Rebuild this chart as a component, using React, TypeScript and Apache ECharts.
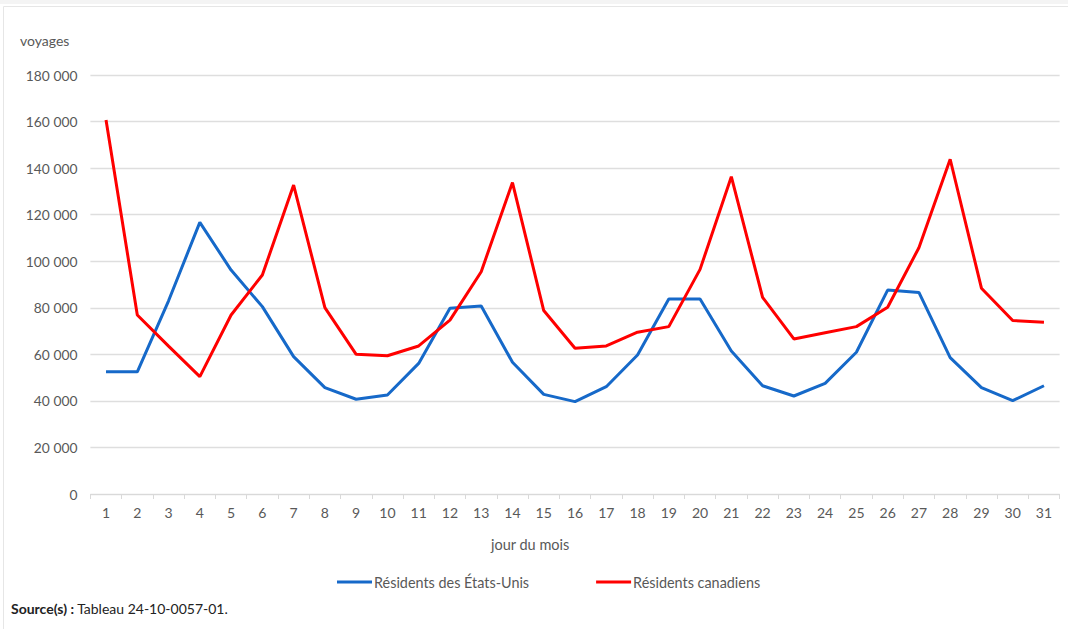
import React, { useEffect, useRef } from "react";
import * as echarts from "echarts";

const days: string[] = Array.from({ length: 31 }, (_, i) => String(i + 1));

const usResidents: number[] = [
  52500, 52500, 83000, 116700, 96200, 80500, 59000, 45700, 40700, 42500,
  56100, 79800, 80800, 56600, 42800, 39700, 46100, 59700, 83800, 83800,
  61400, 46500, 42100, 47500, 60900, 87600, 86600, 58600, 45700, 40100, 46500,
];

const canadianResidents: number[] = [
  160700, 76900, 63500, 50400, 76900, 94100, 132700, 80100, 60000, 59400,
  63600, 74700, 95500, 133800, 78800, 62600, 63600, 69500, 71900, 96500,
  136300, 84500, 66600, 69300, 71900, 80200, 105800, 143800, 88400, 74500, 73800,
];

const yTicks = { min: 0, max: 180000, interval: 20000 };

const FONT = "Lato, 'Noto Sans', sans-serif";
const GRAY = "#595959";

export default function App() {
  const ref = useRef<HTMLDivElement>(null);

  useEffect(() => {
    if (!ref.current) return;
    const chart = echarts.init(ref.current, undefined, { renderer: "svg" });
    chart.setOption({
      animation: false,
      backgroundColor: "#ffffff",
      textStyle: { fontFamily: FONT },
      grid: { left: 90.4, right: 8.4, top: 75, bottom: 135, containLabel: false },
      legend: {
        left: 332,
        top: 570,
        icon: "rect",
        itemWidth: 35,
        itemHeight: 3,
        itemGap: 67,
        textStyle: { color: GRAY, fontSize: 14.4, fontFamily: FONT, padding: [0, 0, 0, -3] },
        data: ["Résidents des États-Unis", "Résidents canadiens"],
      },
      xAxis: {
        type: "category",
        data: days,
        boundaryGap: true,
        axisLine: { lineStyle: { color: "#d9d9d9", width: 1 } },
        axisTick: { show: true, length: 5, lineStyle: { color: "#d9d9d9" } },
        axisLabel: { color: GRAY, fontSize: 14, margin: 11, interval: 0, fontFamily: FONT },
      },
      yAxis: {
        type: "value",
        min: yTicks.min,
        max: yTicks.max,
        interval: yTicks.interval,
        axisLine: { show: false },
        axisTick: { show: false },
        splitLine: { lineStyle: { color: "#dedede", width: 1.3 } },
        axisLabel: {
          color: GRAY,
          fontSize: 13.8,
          margin: 13,
          fontFamily: FONT,
          formatter: (v: number) => String(v).replace(/\B(?=(\d{3})+(?!\d))/g, " "),
        },
      },
      series: [
        {
          name: "Résidents des États-Unis",
          type: "line",
          data: usResidents,
          symbol: "none",
          lineStyle: { color: "#1669C9", width: 3 },
          itemStyle: { color: "#1669C9" },
        },
        {
          name: "Résidents canadiens",
          type: "line",
          data: canadianResidents,
          symbol: "none",
          lineStyle: { color: "#FF0000", width: 3 },
          itemStyle: { color: "#FF0000" },
        },
      ],
      graphic: [
        {
          type: "rect",
          left: 0,
          top: 0,
          shape: { width: 1068, height: 4 },
          style: { fill: "#f4f4f4" },
          silent: true,
        },
        {
          type: "rect",
          left: 1,
          top: 4,
          shape: { width: 1066, height: 640 },
          style: { fill: "none", stroke: "#e6e6e6", lineWidth: 1 },
          silent: true,
        },
        {
          type: "text",
          left: 20,
          top: 33,
          style: { text: "voyages", fill: GRAY, fontSize: 14, fontFamily: FONT },
        },
        {
          type: "text",
          left: 491,
          top: 537,
          style: { text: "jour du mois", fill: GRAY, fontSize: 14.5, fontFamily: FONT },
        },
        {
          type: "text",
          left: 11,
          top: 601,
          style: {
            text: "{b|Source(s) :} Tableau 24-10-0057-01.",
            fill: "#222222",
            fontSize: 14,
            fontFamily: FONT,
            rich: { b: { fontWeight: "bold", fill: "#222222", fontSize: 14, fontFamily: FONT } },
          },
        },
      ],
    });
    return () => chart.dispose();
  }, []);

  return (
    <div
      ref={ref}
      style={{ position: "fixed", left: 0, top: 0, width: 1068, height: 629, background: "#fff" }}
    />
  );
}
